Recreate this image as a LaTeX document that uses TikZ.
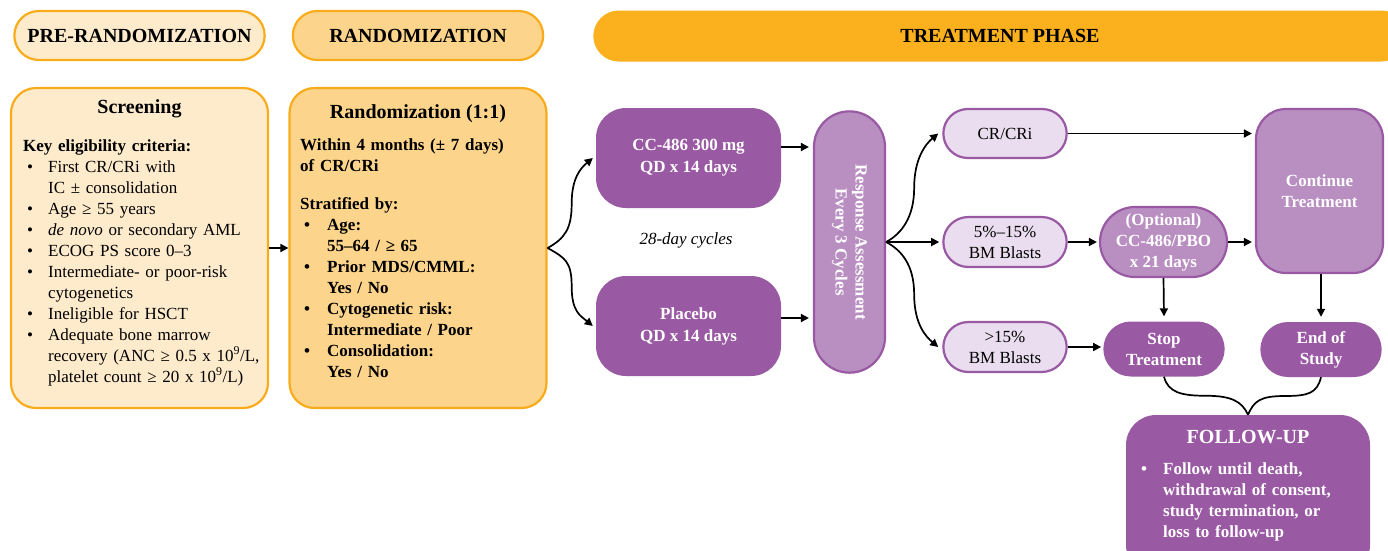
\documentclass[tikz,border=0pt]{standalone}
\usepackage{fontspec}
\setmainfont{Liberation Serif}
\usetikzlibrary{arrows.meta,shapes.misc,positioning,calc}
\definecolor{orng}{HTML}{F8AC1C}
\definecolor{orngpale}{HTML}{FEEBCC}
\definecolor{orngmid}{HTML}{FDD48B}
\definecolor{orngbar}{HTML}{FBB11D}
\definecolor{purp}{HTML}{9959A3}
\definecolor{purplt}{HTML}{B98FC2}
\definecolor{purppale}{HTML}{E9DDEF}
\newcommand{\bitem}[2][25pt]{\par\noindent\hangindent=#1\hangafter=1%
  \makebox[#1][l]{\hspace{4pt}\textbullet}#2\par}
\tikzset{
  phase_pill/.style={rounded rectangle,draw=orng,line width=2.2pt,minimum height=49pt,
    minimum width=257pt,font=\fontsize{20}{23}\selectfont\bfseries},
  panel/.style={draw=orng,line width=2.2pt,rounded corners=25pt,minimum width=257pt,minimum height=320pt},
  title_txt/.style={font=\fontsize{20}{23}\selectfont\bfseries,inner sep=0pt},
  body_txt/.style={font=\fontsize{17}{21}\selectfont,align=left,inner sep=0pt,anchor=north west},
  arm_box/.style={fill=purp,rounded corners=30pt,minimum width=185pt,minimum height=100pt,
    font=\fontsize{17}{22}\selectfont\bfseries\color{white},align=center},
  out_pill/.style={rounded rectangle,draw=purp,fill=purppale,line width=2.2pt,
    minimum width=130pt,minimum height=49pt,font=\fontsize{17}{21}\selectfont,align=center},
  lt_box/.style={draw=purp,fill=purplt,line width=2.2pt,
    font=\fontsize{17}{21}\selectfont\bfseries\color{white},align=center},
  dk_pill/.style={rounded rectangle,fill=purp,minimum width=128pt,minimum height=55pt,
    font=\fontsize{17}{21}\selectfont\bfseries\color{white},align=center},
  arr/.style={-{Triangle[length=8pt,width=8pt]},line width=1.7pt},
  brace_ln/.style={line width=1.7pt},
}

\begin{document}
\begin{tikzpicture}[x=1pt,y=-1pt]
    \useasboundingbox (0,0) rectangle (1388,550);
    \clip (0,0) rectangle (1388,550);
    % phase headers
    \node[phase_pill,fill=orngpale] (prephase) at (139.5,35.5) {PRE-RANDOMIZATION};
    \node[phase_pill,fill=orngmid] (rndphase) at (418,35.5) {RANDOMIZATION};
    \node[rounded rectangle,fill=orngbar,minimum width=820pt,minimum height=51pt,
      font=\fontsize{20}{23}\selectfont\bfseries] (txphase) at (1000,36) {TREATMENT PHASE};
    % screening
    \node[panel,fill=orngpale] (scr) at (139.5,248) {};
    \node[title_txt] (scrtitle) at (139.5,109) {Screening};
    \node[body_txt,text width=240pt] (scrbody) at (23,139) {\textbf{Key eligibility criteria:}
      \bitem{First CR/CRi with\newline IC ± consolidation}
      \bitem{Age ≥ 55 years}
      \bitem{\textit{de novo} or secondary AML}
      \bitem{ECOG PS score 0–3}
      \bitem{Intermediate- or poor-risk\newline cytogenetics}
      \bitem{Ineligible for HSCT}
      \bitem{Adequate bone marrow\newline recovery (ANC ≥ 0.5 x 10\textsuperscript{9}/L,\newline platelet count ≥ 20 x 10\textsuperscript{9}/L)}};
    % randomization
    \node[panel,fill=orngmid] (rnd) at (418,248) {};
    \node[title_txt] (rndtitle) at (418,114) {Randomization (1:1)};
    \node[body_txt,text width=240pt,font=\fontsize{17}{21}\selectfont\bfseries] (rndbody) at (300,138) {Within 4 months (± 7 days)\newline of CR/CRi\par\vspace{17pt}Stratified by:
      \bitem[27pt]{Age:\newline 55–64 / ≥ 65}
      \bitem[27pt]{Prior MDS/CMML:\newline Yes / No}
      \bitem[27pt]{Cytogenetic risk:\newline Intermediate / Poor}
      \bitem[27pt]{Consolidation:\newline Yes / No}};
    \draw[arr] (scr.east) -- (rnd.west);
    % treatment arms
    \node[arm_box] (cc) at (688.5,158) {CC-486 300 mg\\QD x 14 days};
    \node[arm_box] (pbo) at (688.5,326) {Placebo\\QD x 14 days};
    \node[font=\fontsize{17}{21}\selectfont\itshape] (cyc) at (686,240) {28-day cycles};
    \node[lt_box,rounded rectangle,rotate=-90,minimum width=268pt,minimum height=71pt,
      font=\fontsize{17}{20}\selectfont\bfseries\color{white}] (resp) at (849.5,242) {Response Assessment\\Every 3 Cycles};
    \draw[arr] (rnd.east) .. controls +(18,-10) and +(0,25) .. ($(rnd.east)!0.5!(cc.west)$)
      .. controls +(0,-25) and +(-12,10) .. ([xshift=-3pt]cc.west);
    \draw[arr] (rnd.east) .. controls +(18,10) and +(0,-25) .. ($(rnd.east)!0.5!(pbo.west)$)
      .. controls +(0,25) and +(-12,-10) .. ([xshift=-3pt]pbo.west);
    \draw[arr] ([yshift=11pt]cc.east) -- ([yshift=11pt,xshift=-4pt]cc.east -| resp.south);
    \draw[arr] ([yshift=8pt]pbo.east) -- ([yshift=8pt,xshift=-4pt]pbo.east -| resp.south);
    % outcomes
    \node[out_pill] (cr) at (1005,133.5) {CR/CRi};
    \node[out_pill,minimum height=50pt] (mid) at (1005,242) {5\%–15\%\\BM Blasts};
    \node[out_pill,minimum height=50pt] (hi) at (1005,347) {>15\%\\BM Blasts};
    \draw[arr] (resp.north) .. controls +(15,-8) and +(0,30) .. ($(resp.north)!0.5!(cr.west)$)
      .. controls +(0,-30) and +(-12,10) .. ([xshift=-4pt]cr.west);
    \draw[arr] (resp.north) -- ([xshift=-3pt]mid.west);
    \draw[arr] (resp.north) .. controls +(15,8) and +(0,-30) .. ($(resp.north)!0.5!(hi.west)$)
      .. controls +(0,30) and +(-12,-10) .. ([xshift=-4pt]hi.west);
    \node[lt_box,rounded rectangle,minimum width=127pt,minimum height=70pt,inner sep=0pt] (opt) at (1163.5,242) {(Optional)\\CC-486/PBO\\x 21 days};
    \node[lt_box,rounded corners=30pt,minimum width=127pt,minimum height=164pt] (cont) at (1319.5,191) {Continue\\Treatment};
    \node[dk_pill] (stop) at (1164,349) {Stop\\Treatment};
    \node[dk_pill] (eos) at (1321,349.5) {End of\\Study};
    \draw[arr] (cr.east) -- ([xshift=-3pt]cr.east -| cont.west);
    \draw[arr] (mid.east) -- ([xshift=-2pt]opt.west);
    \draw[arr] (opt.east) -- ([xshift=-3pt]opt.east -| cont.west);
    \draw[arr] (hi.east) -- ([xshift=-2pt]hi.east -| stop.west);
    \draw[arr] (opt.south) -- ([yshift=5pt]stop.north);
    \draw[arr] (cont.south -| eos.north) -- ([yshift=5pt]eos.north);
    % follow-up
    \node[fill=purp,rounded corners=30pt,minimum width=244pt,minimum height=160pt] (fu) at (1248,495) {};
    \draw[brace_ln] (stop.south) .. controls +(4,16) and +(-24,0) .. ($(stop.south)!0.5!(fu.north)$)
      .. controls +(24,0) and +(-6,-14) .. (fu.north);
    \draw[brace_ln] (eos.south) .. controls +(-4,16) and +(24,0) .. ($(eos.south)!0.5!(fu.north)$)
      .. controls +(-24,0) and +(6,-14) .. (fu.north);
    \node[title_txt,text=white] (futitle) at (1248,437) {FOLLOW-UP};
    \node[body_txt,text width=220pt,font=\fontsize{17}{21}\selectfont\bfseries,text=white] (fubody) at (1137,453) {\bitem[26pt]{Follow until death,\newline withdrawal of consent,\newline study termination, or\newline loss to follow-up}};
  \end{tikzpicture}
\end{document}
